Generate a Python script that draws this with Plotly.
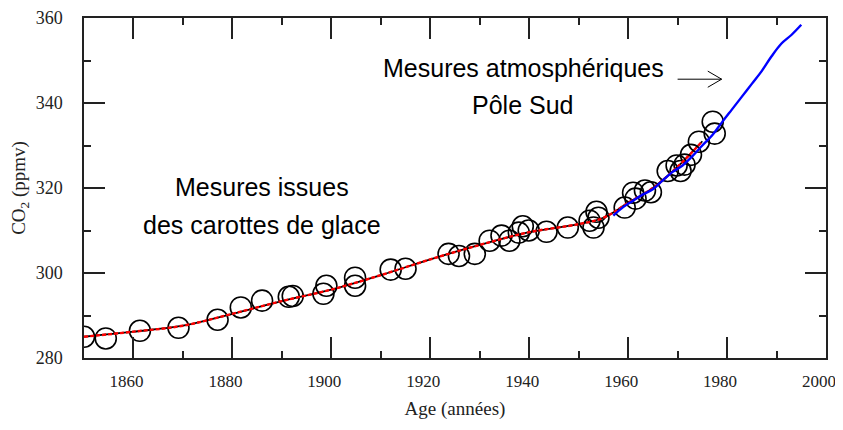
import plotly.graph_objects as go

# Ice core measurements (circles)
ice_years = [1850, 1854.4, 1861.3, 1869.1, 1877, 1881.7, 1886, 1891.4, 1892.2, 1898.4, 1899,
             1904.8, 1904.8, 1912, 1915, 1923.7, 1925.8, 1929, 1932, 1934.4, 1936, 1937.9,
             1938.7, 1939.9, 1943.5, 1947.8, 1952.2, 1953, 1953.6, 1954, 1959.3, 1961,
             1961.5, 1963.4, 1964.6, 1968, 1969.8, 1970.6, 1971.4, 1972.7, 1974.3, 1977.1, 1977.5]
ice_co2 = [285.0, 284.6, 286.4, 287.1, 289.0, 291.9, 293.5, 294.4, 294.6, 295.1, 297.0,
           298.9, 297.0, 300.8, 301.0, 304.5, 304.0, 304.5, 307.6, 308.8, 307.6, 309.5,
           311.0, 310.0, 309.7, 310.7, 312.3, 310.7, 314.4, 313.0, 315.4, 318.9,
           317.5, 319.4, 319.0, 324.0, 325.3, 324.0, 325.5, 327.8, 330.9, 335.6, 332.8]

# Smoothed ice-core fit (red)
fit_years = [1850, 1860, 1870, 1880, 1890, 1900, 1910, 1920, 1930, 1940, 1950, 1955, 1960, 1965, 1970, 1975]
fit_co2 = [285.0, 286.2, 287.6, 290.4, 293.4, 296.1, 299.5, 303.2, 306.6, 309.6, 311.5, 313.0, 316.5, 320.0, 325.0, 331.0]

# Atmospheric measurements, South Pole (blue)
atm_years = [1957, 1959, 1961, 1963, 1965, 1967, 1969, 1971, 1973, 1975, 1977, 1979,
             1981, 1983, 1985, 1987, 1989, 1991, 1993, 1995]
atm_co2 = [313.5, 315.5, 317.0, 318.5, 319.7, 321.8, 323.8, 325.3, 327.5, 330.0, 332.4, 335.5,
           338.5, 341.5, 344.5, 347.5, 351.0, 354.0, 356.0, 358.4]

serif = "Liberation Serif, Times New Roman, serif"
sans = "Liberation Sans, Arial, sans-serif"

fig = go.Figure()
fig.add_trace(go.Scatter(x=ice_years, y=ice_co2, mode="markers",
                         marker=dict(symbol="circle-open", size=21, color="black",
                                     line=dict(width=1.6)),
                         showlegend=False, hoverinfo="skip"))
fig.add_trace(go.Scatter(x=fit_years, y=fit_co2, mode="lines", line_shape="spline",
                         line=dict(color="black", width=1.8), showlegend=False))
fig.add_trace(go.Scatter(x=fit_years, y=fit_co2, mode="lines", line_shape="spline",
                         line=dict(color="#ff0000", width=2.4, dash="4px,2px"), showlegend=False))
fig.add_trace(go.Scatter(x=atm_years, y=atm_co2, mode="lines", line_shape="spline",
                         line=dict(color="#0000ff", width=2.4), showlegend=False))

axis_common = dict(showline=True, linecolor="#222", linewidth=1.5, mirror="allticks",
                   ticks="inside", tickcolor="#222", tickwidth=1.5, ticklen=21,
                   showgrid=False, zeroline=False, automargin=False,
                   ticklabeloverflow="allow")

fig.update_xaxes(range=[1850, 2000], tick0=1860, dtick=20,
                 minor=dict(dtick=10, tick0=1850, ticks="inside", ticklen=7,
                            tickcolor="#222", tickwidth=1.5, showgrid=False),
                 ticklabelstandoff=7, ticklabelshift=-7,
                 tickfont=dict(family=serif, size=17, color="#222"),
                 title=dict(text="Age (années)", font=dict(family=serif, size=19, color="#222"),
                            standoff=12),
                 **axis_common)
fig.update_yaxes(range=[280, 360], tick0=280, dtick=20,
                 minor=dict(dtick=10, tick0=280, ticks="inside", ticklen=7,
                            tickcolor="#222", tickwidth=1.5, showgrid=False),
                 ticklabelstandoff=16,
                 tickfont=dict(family=serif, size=18, color="#222"),
                 title=dict(text="CO<sub>2</sub> (ppmv)", font=dict(family=serif, size=19, color="#222"),
                            standoff=7),
                 **axis_common)

ann_font = dict(family=sans, size=25, color="black")
fig.add_annotation(x=1885.9, y=320.3, text="Mesures issues", showarrow=False, font=ann_font)
fig.add_annotation(x=1885.9, y=311.4, text="des carottes de glace", showarrow=False, font=ann_font)
fig.add_annotation(x=1938.8, y=348.3, text="Mesures atmosphériques", showarrow=False, font=ann_font)
fig.add_annotation(x=1938.6, y=339.6, text="Pôle Sud", showarrow=False, font=ann_font)

arrow_line = dict(color="black", width=1)
fig.add_shape(type="line", x0=1970.0, y0=345.6, x1=1978.9, y1=345.6, line=arrow_line)
fig.add_shape(type="line", x0=1976.1, y0=347.5, x1=1978.9, y1=345.6, line=arrow_line)
fig.add_shape(type="line", x0=1976.1, y0=343.7, x1=1978.9, y1=345.6, line=arrow_line)

# The page body has an 8px default margin; the plot area is placed to compensate.
fig.update_layout(width=843, height=422, plot_bgcolor="white", paper_bgcolor="white",
                  margin=dict(l=76, r=25, t=10, b=72), showlegend=False)

fig.write_html("out.html")
